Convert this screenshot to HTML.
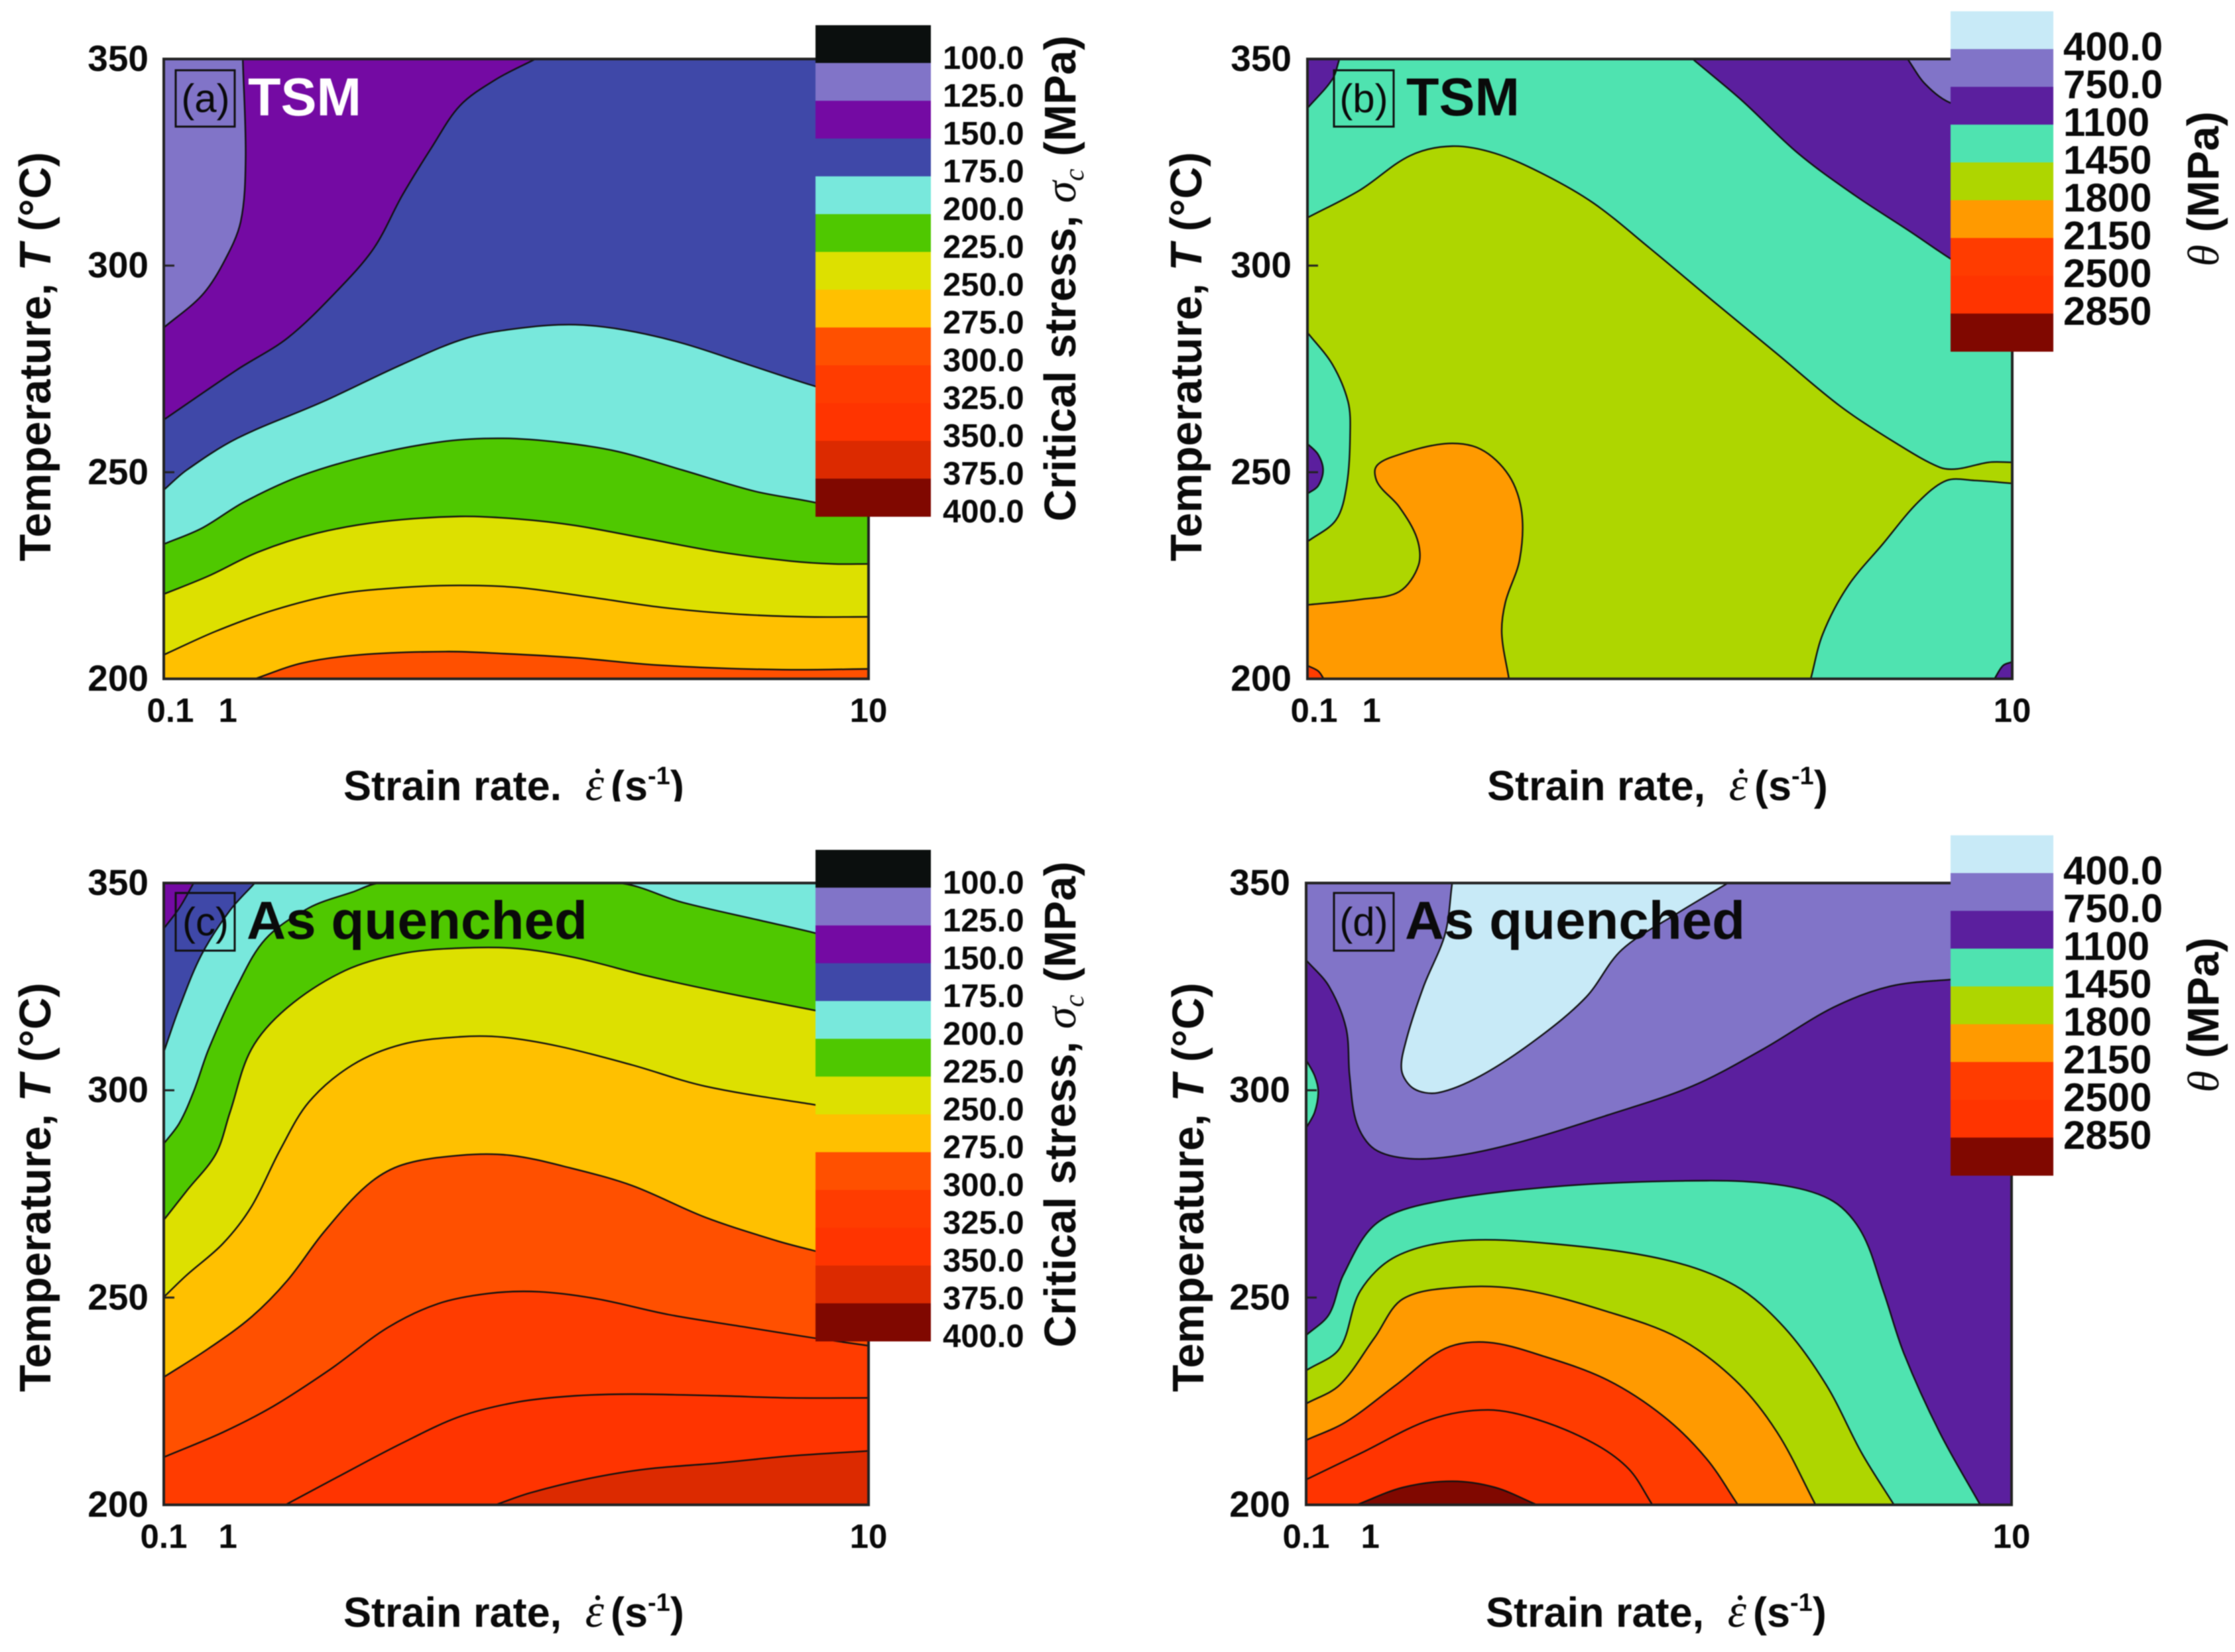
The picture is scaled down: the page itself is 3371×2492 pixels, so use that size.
<!DOCTYPE html>
<html lang="en">
<head>
<meta charset="utf-8">
<title>Contour maps of critical stress and hardening rate</title>
<style>
html,body{margin:0;padding:0;background:#fff;}
svg{display:block;filter:blur(0.9px);}
text{font-family:"Liberation Sans",sans-serif;fill:#0a0a0a;}
.t{font-weight:bold;font-size:67px;}
.x{font-weight:bold;font-size:63px;}
.g{font-family:"Liberation Serif","DejaVu Serif",serif;font-style:italic;font-weight:normal;}
.tag{font-size:60px;font-weight:normal;text-anchor:middle;}
.big{font-size:81px;font-weight:bold;}
</style>
</head>
<body>
<svg id="figure" xmlns="http://www.w3.org/2000/svg" width="3371" height="2492" viewBox="0 0 3371 2492">
<rect width="3371" height="2492" fill="#fff"/>
<g id="layer-marks"></g>

<g>
<text class="t" transform="translate(76,538) rotate(-90)" text-anchor="middle">Temperature, <tspan font-style="italic">T</tspan> (°C)</text>
<text class="x" x="518" y="1207">Strain rate. <tspan class="g" font-size="72" dx="18">ε</tspan><tspan class="g" font-size="72" dx="-26">˙</tspan><tspan dx="12">(s</tspan><tspan font-size="38" dy="-24">-1</tspan><tspan dy="24">)</tspan></text>
<rect x="500" y="1209" width="560" height="20" fill="#fff"/>
<text class="t" transform="translate(1622,420) rotate(-90)" text-anchor="middle">Critical stress, <tspan class="g">σ</tspan><tspan class="g" font-size="42" dy="12">c</tspan><tspan dy="-12"> (MPa)</tspan></text>
<rect x="265" y="106" width="89" height="85" fill="none" stroke="#111" stroke-width="3"/>
<text class="tag" x="310" y="169">(a)</text>
<text class="big" x="374" y="174" style="fill:#fff">TSM</text>
</g>

<g>
<text class="t" transform="translate(1812,538) rotate(-90)" text-anchor="middle">Temperature, <tspan font-style="italic">T</tspan> (°C)</text>
<text class="x" x="2243" y="1207">Strain rate, <tspan class="g" font-size="72" dx="18">ε</tspan><tspan class="g" font-size="72" dx="-26">˙</tspan><tspan dx="12">(s</tspan><tspan font-size="38" dy="-24">-1</tspan><tspan dy="24">)</tspan></text>
<text class="t" transform="translate(3346,285) rotate(-90)" text-anchor="middle"><tspan class="g">θ</tspan> (MPa)</text>
<rect x="2012" y="106" width="90" height="85" fill="none" stroke="#111" stroke-width="3"/>
<text class="tag" x="2057" y="169">(b)</text>
<text class="big" x="2121" y="174">TSM</text>
</g>

<g>
<text class="t" transform="translate(76,1791) rotate(-90)" text-anchor="middle">Temperature, <tspan font-style="italic">T</tspan> (°C)</text>
<text class="x" x="518" y="2454">Strain rate, <tspan class="g" font-size="72" dx="18">ε</tspan><tspan class="g" font-size="72" dx="-26">˙</tspan><tspan dx="12">(s</tspan><tspan font-size="38" dy="-24">-1</tspan><tspan dy="24">)</tspan></text>
<text class="t" transform="translate(1622,1666) rotate(-90)" text-anchor="middle">Critical stress, <tspan class="g">σ</tspan><tspan class="g" font-size="42" dy="12">c</tspan><tspan dy="-12"> (MPa)</tspan></text>
<rect x="265" y="1347" width="89" height="87" fill="none" stroke="#111" stroke-width="3"/>
<text class="tag" x="310" y="1411">(c)</text>
<text class="big" x="372" y="1416" textLength="514" lengthAdjust="spacingAndGlyphs">As quenched</text>
</g>

<g>
<text class="t" transform="translate(1815,1791) rotate(-90)" text-anchor="middle">Temperature, <tspan font-style="italic">T</tspan> (°C)</text>
<text class="x" x="2241" y="2454">Strain rate, <tspan class="g" font-size="72" dx="18">ε</tspan><tspan class="g" font-size="72" dx="-26">˙</tspan><tspan dx="12">(s</tspan><tspan font-size="38" dy="-24">-1</tspan><tspan dy="24">)</tspan></text>
<text class="t" transform="translate(3346,1531) rotate(-90)" text-anchor="middle"><tspan class="g">θ</tspan> (MPa)</text>
<rect x="2012" y="1347" width="90" height="87" fill="none" stroke="#111" stroke-width="3"/>
<text class="tag" x="2057" y="1411">(d)</text>
<text class="big" x="2119" y="1416" textLength="513" lengthAdjust="spacingAndGlyphs">As quenched</text>
</g>
</svg>

<script>
/* axis domain and tick labels */
const strainDomain = [0.1, 10];
const tempDomain = [200, 350];
const xTickValues = [0.1, 1, 10];
const yTickValues = [200, 250, 300, 350];

/* colour-scale levels */
const stressLabels = ["100.0","125.0","150.0","175.0","200.0","225.0","250.0","275.0","300.0","325.0","350.0","375.0","400.0"];
const thetaLabels = ["400.0","750.0","1100","1450","1800","2150","2500","2850",""];
const stressColors = ["#0b0f0e","#8174c8","#740aa3","#3f48a8","#78e8dc","#4fc800","#dde000","#ffc000","#ff5000","#ff3c00","#ff3400","#dc2a00","#800800"];
const thetaColors = ["#c8eaf7","#8174c8","#5b1f9e","#4fe3b0","#aed600","#ff9a00","#ff3c00","#ff3400","#800800"];

/* domain corners (strain rate, temperature) */
const TL = [0.1, 350], TR = [10, 350], BL = [0.1, 200], BR = [10, 200];

/* panel (a): critical stress contours, TSM */
const a125 = [[1.21,350],[1.25,326],[1.18,310.6],[0.93,300.4],[0.63,292.7],[0.1,285]];
const a150 = [[5.32,350],[4.77,345.1],[4.26,338.7],[3.86,328.5],[3.45,317],[3.05,304.2],[2.54,294],[1.84,282.5],[1.13,274.8],[0.1,262.7]];
const a200 = [[0.1,245.7],[0.42,250.5],[1.13,258.2],[2.34,267.1],[3.45,276.1],[4.36,282.5],[5.17,285],[5.88,285.7],[6.58,284.4],[7.39,281.2],[8.3,276.1],[9.21,271],[10,267.1]];
const a225 = [[0.1,232.6],[0.63,236.4],[1.23,242.8],[2.04,249.2],[3.05,254.3],[4.06,257.5],[4.87,258.2],[5.68,257.2],[6.48,255],[7.39,250.5],[8.4,245.4],[9.21,242.8],[10,239.6]];
const a250 = [[0.1,220.5],[0.73,224.9],[1.43,230.7],[2.24,235.2],[3.15,238],[4.26,239.3],[5.07,238.7],[5.88,237.1],[6.89,233.9],[7.9,230.7],[8.91,228.5],[9.51,227.8],[10,227.8]];
const a275 = [[0.1,205.8],[0.83,211.5],[1.64,216.6],[2.54,220.5],[3.45,222.1],[4.26,222.6],[5.07,222.1],[6.08,219.8],[7.09,217.3],[8.1,215.7],[9.11,215],[10,215]];
const a300 = [[1.38,200],[2.04,203.8],[2.85,205.8],[4.06,206.6],[4.87,206.1],[5.88,205.1],[6.89,203.5],[7.9,202.6],[8.91,202.2],[10,202.4]];

/* panel (b): hardening rate contours, TSM */
const b1450top = [[0.1,311.6],[0.84,318.3],[1.54,326.6],[2.13,328.9],[2.73,327.2],[3.42,322.1],[4.12,315.1],[4.91,304.2],[5.8,291.4],[6.7,278.6],[7.59,265.9],[8.38,256.9],[8.98,251.2],[9.23,250.8],[9.67,252.4],[10,252.4]];
const b1100top = [[5.51,350],[6.2,340],[6.99,327.2],[7.79,317],[8.58,308.1],[9.13,301.7],[10,292.7]];
const b750corner = [[8.53,350],[8.78,343.9],[9.13,339.4],[10,335.6]];
const b1100corner = [[0.55,350],[0.45,345.1],[0.1,338.1]];
const b1450lobe = [[0.1,283.8],[0.45,276.1],[0.67,267.1],[0.7,259.5],[0.65,246.7],[0.5,238.4],[0.1,233.2]];
const b1100lobe = [[0.1,256.9],[0.25,254.3],[0.32,250.5],[0.25,246.7],[0.1,244.8]];
const b2150 = [[0.1,217.9],[0.84,219.2],[1.39,221.1],[1.66,227.5],[1.64,233.9],[1.39,241.6],[1.09,247.3],[1.06,251.2],[1.29,253.7],[2.03,256.9],[2.53,255.6],[2.93,249.2],[3.11,240.3],[3.08,228.8],[2.88,218.5],[2.83,210.9],[2.93,200]];
const b2500corner = [[0.1,203.2],[0.25,201.9],[0.33,200]];
const b1450right = [[7.17,200],[7.34,210.9],[7.69,222.4],[8.18,232.6],[8.68,242.8],[9.08,248],[9.47,248],[10,247.3]];
const b1100right = [[9.75,200],[9.87,203.2],[10,204.1]];

/* panel (c): critical stress contours, as quenched */
const c175 = [[1.38,350],[1.03,343.4],[0.63,332.7],[0.32,320],[0.1,309.2]];
const c150 = [[0.52,350],[0.32,344],[0.1,339]];
const c225 = [[0.1,287.1],[0.32,292.1],[0.52,299.7],[0.73,309.9],[1.13,325.1],[1.53,336.5],[2.14,344],[2.75,347.8],[3.15,350],[6.48,350],[7.39,345.3],[8.5,340.9],[9.21,338.1],[10,334.6]];
const c250 = [[0.1,268.7],[0.42,275.7],[0.83,284.6],[1.03,294.7],[1.33,309.9],[1.84,320],[2.65,328.9],[3.45,333],[4.26,334.3],[5.07,334.2],[5.88,332],[6.89,327.6],[7.9,323.8],[9.21,319.4],[10,316.8]];
const c275 = [[0.1,250.1],[0.42,255.4],[0.93,263],[1.33,271.9],[1.74,285.8],[2.14,297.2],[2.75,306.1],[3.45,311.1],[4.26,312.9],[4.87,312.8],[5.68,310.5],[6.68,306.1],[7.7,301],[9.21,296.6],[10,294.7]];
const c300 = [[0.1,230.8],[0.73,237.7],[1.33,245.3],[1.84,254.2],[2.34,265.6],[2.95,277],[3.45,282],[4.26,284.3],[4.97,284.3],[5.78,281.4],[6.68,277],[7.7,269.4],[8.71,263.7],[9.21,261.4],[10,258]];
const c325 = [[0.1,211.5],[0.93,217.5],[1.64,223.8],[2.44,232.7],[3.25,242.8],[3.95,248.5],[4.67,251],[5.37,251.4],[6.18,249.7],[7.19,245.9],[8.3,242.8],[9.21,240.3],[10,238.4]];
const c350 = [[1.81,200],[2.54,206.7],[3.45,214.9],[4.26,221.3],[5.07,224.8],[5.88,226.3],[6.68,226.7],[7.9,226.3],[8.91,225.8],[10,225.8]];
const c375 = [[4.76,200],[5.25,202.9],[6.06,206.3],[6.87,208.6],[7.9,210.1],[8.91,211.8],[10,213]];

/* panel (d): hardening rate contours, as quenched */
const d750 = [[0.1,331.4],[0.42,325.1],[0.66,315],[0.71,303.5],[0.81,292.1],[1.06,285.8],[1.56,283.5],[2.25,284.3],[3.14,287.7],[4.33,294],[5.52,301],[6.51,309.9],[7.5,320],[8.3,325.1],[9.14,326.7],[10,327.6]];
const d400 = [[2.15,350],[2.05,337.7],[1.75,325.1],[1.51,312.4],[1.44,304.8],[1.61,300.4],[1.95,299.4],[2.55,303.5],[3.34,312.4],[4.03,322.5],[4.53,333.9],[5.32,342.8],[6.02,350]];
const d1450lobe = [[0.1,307.3],[0.22,303.5],[0.27,299.7],[0.22,294.7],[0.1,290.9]];
const d1450 = [[0.1,240.9],[0.42,245.9],[0.62,255.4],[1.06,267.5],[1.75,272.5],[3.54,276.7],[5.72,278.2],[6.81,277],[7.5,273.2],[7.9,265.6],[8.2,251.6],[8.49,236.5],[8.99,217.5],[9.56,200]];
const d1800 = [[0.1,232.4],[0.57,237.7],[0.86,251.6],[1.36,259.9],[2.25,263.7],[3.54,263],[5.12,259.2],[6.12,252.9],[6.81,242.8],[7.4,228.9],[7.9,212.4],[8.35,200]];
const d2150 = [[0.1,224.4],[0.57,228.9],[1.06,240.3],[1.46,249.7],[2.25,252.5],[3.14,251.9],[4.33,246.6],[5.32,240.3],[6.12,230.1],[6.71,217.5],[7.25,200]];
const d2500a = [[0.1,215.6],[0.66,220],[1.36,228.9],[2.05,237.7],[2.65,239.2],[3.44,235.8],[4.33,230.1],[5.12,221.3],[5.72,211.1],[6.16,200]];
const d2500b = [[0.1,206.1],[0.86,212.4],[1.85,220.6],[2.65,222.9],[3.34,220.6],[4.13,214.9],[4.63,208.6],[4.96,200]];
const d2850 = [[0.81,200],[1.46,204.2],[2.15,205.7],[2.75,204.2],[3.34,200]];

/* band stacking: colour index into the panel's scale, contour, corners closing the region */
const bandsA = [[2,a150,[TL]],[1,a125,[TL]],[4,a200,[BR,BL]],[5,a225,[BR,BL]],[6,a250,[BR,BL]],[7,a275,[BR,BL]],[8,a300,[BR]]];
const bandsB = [[3,b1450top,[TR,TL]],[2,b1100top,[TR]],[1,b750corner,[TR]],[2,b1100corner,[TL]],[3,b1450lobe,[]],[2,b1100lobe,[]],[5,b2150,[BL]],[6,b2500corner,[BL]],[3,b1450right,[BR]],[2,b1100right,[BR]]];
const bandsC = [[3,c175,[TL]],[2,c150,[TL]],[5,c225,[BR,BL]],[6,c250,[BR,BL]],[7,c275,[BR,BL]],[8,c300,[BR,BL]],[9,c325,[BR,BL]],[10,c350,[BR]],[11,c375,[BR]]];
const bandsD = [[1,d750,[TR,TL]],[0,d400,[]],[3,d1450lobe,[]],[3,d1450,[BL]],[4,d1800,[BL]],[5,d2150,[BL]],[6,d2500a,[BL]],[7,d2500b,[BL]],[8,d2850,[]]];

/* layout only */
const SVGNS = "http://www.w3.org/2000/svg";
const root = document.getElementById("layer-marks");

const panelLayouts = [
  {id:"a",l:247,r:1310,t:89,b:1024,base:3,colors:stressColors,labels:stressLabels,bands:bandsA,leg:[1230,38,174],legText:[1422,49,9],tickRight:224,xBase:1089,xShift:10},
  {id:"b",l:1972,r:3035,t:89,b:1024,base:4,colors:thetaColors,labels:thetaLabels,bands:bandsB,leg:[2942,17,155],legText:[3112,60,17],tickRight:1948,xBase:1089,xShift:10},
  {id:"c",l:247,r:1310,t:1332,b:2270,base:4,colors:stressColors,labels:stressLabels,bands:bandsC,leg:[1230,1282,174],legText:[1422,49,9],tickRight:224,xBase:2335,xShift:0},
  {id:"d",l:1970,r:3034,t:1332,b:2270,base:2,colors:thetaColors,labels:thetaLabels,bands:bandsD,leg:[2942,1260,155],legText:[3112,60,17],tickRight:1946,xBase:2335,xShift:0}
];

function el(tag, attrs, parent) {
  const n = document.createElementNS(SVGNS, tag);
  for (const k in attrs) n.setAttribute(k, attrs[k]);
  parent.appendChild(n);
  return n;
}

function dist(a, b) { return Math.hypot(a[0] - b[0], a[1] - b[1]) || 1e-6; }

/* chord-length Catmull-Rom: keeps unevenly spaced contour points from wobbling */
function smoothPath(pts) {
  let d = "M" + pts[0][0].toFixed(1) + " " + pts[0][1].toFixed(1);
  for (let i = 0; i < pts.length - 1; i++) {
    const p0 = pts[i - 1] || pts[i], p1 = pts[i], p2 = pts[i + 1], p3 = pts[i + 2] || p2;
    const d1 = i > 0 ? dist(p0, p1) : 0, d2 = dist(p1, p2), d3 = pts[i + 2] ? dist(p2, p3) : 0;
    const k1 = d2 / 3 / (d1 + d2), k2 = d2 / 3 / (d2 + d3);
    const c1x = p1[0] + (p2[0] - p0[0]) * k1, c1y = p1[1] + (p2[1] - p0[1]) * k1;
    const c2x = p2[0] - (p3[0] - p1[0]) * k2, c2y = p2[1] - (p3[1] - p1[1]) * k2;
    d += "C" + c1x.toFixed(1) + " " + c1y.toFixed(1) + " " + c2x.toFixed(1) + " " + c2y.toFixed(1) + " " + p2[0].toFixed(1) + " " + p2[1].toFixed(1);
  }
  return d;
}

panelLayouts.forEach(function (p) {
  const xScale = function (v) { return p.l + (v - strainDomain[0]) / (strainDomain[1] - strainDomain[0]) * (p.r - p.l); };
  const yScale = function (v) { return p.b - (v - tempDomain[0]) / (tempDomain[1] - tempDomain[0]) * (p.b - p.t); };
  const project = function (q) { return [xScale(q[0]), yScale(q[1])]; };

  const g = el("g", {}, root);
  
  

  const defs = el("defs", {}, g);
  const clip = el("clipPath", {id: "clip-" + p.id}, defs);
  el("rect", {x: p.l, y: p.t, width: p.r - p.l, height: p.b - p.t}, clip);

  const plot = el("g", {"clip-path": "url(#clip-" + p.id + ")"}, g);
  
  

  const baseRect = el("rect", {x: p.l, y: p.t, width: p.r - p.l, height: p.b - p.t, fill: p.colors[p.base]}, plot);
  
  

  p.bands.forEach(function (band) {
    const line = band[1].map(project);
    const corners = band[2].map(project);
    const curve = smoothPath(line);
    let fillD = curve;
    corners.forEach(function (c) { fillD += "L" + c[0].toFixed(1) + " " + c[1].toFixed(1); });
    fillD += "Z";
    const fill = el("path", {d: fillD, fill: p.colors[band[0]], stroke: "none"}, plot);
    
    
    const stroke = el("path", {d: curve, fill: "none", stroke: "#111", "stroke-width": 2.4}, plot);
    
    
  });

  const frame = el("rect", {x: p.l, y: p.t, width: p.r - p.l, height: p.b - p.t, fill: "none", stroke: "#222", "stroke-width": 4}, g);
  
  

  yTickValues.forEach(function (v) {
    const y = yScale(v);
    const tick = el("line", {x1: p.l, x2: p.l + 16, y1: y, y2: y, stroke: "#222", "stroke-width": 3}, g);
    
    
    const label = el("text", {x: p.tickRight, y: y + 18, "text-anchor": "end", "font-size": 55, "font-weight": "bold"}, g);
    
    
    label.textContent = String(v);
  });

  xTickValues.forEach(function (v, i) {
    const label = el("text", {x: xScale(v) + (i === 0 ? p.xShift : 0), y: p.xBase, "text-anchor": "middle", "font-size": 51, "font-weight": "bold"}, g);
    
    
    label.textContent = String(v);
  });

  const legend = el("g", {}, g);
  
  
  const blockH = 57;
  p.colors.forEach(function (color, i) {
    const top = p.leg[1] + i * blockH;
    const block = el("rect", {x: p.leg[0], y: top, width: p.leg[2], height: blockH + 0.5, fill: color}, legend);
    
    
    if (p.labels[i]) {
      const t = el("text", {x: p.legText[0], y: top + blockH + p.legText[2], "font-size": p.legText[1], "font-weight": "bold"}, legend);
      
      
      t.textContent = p.labels[i];
    }
  });
});
</script>
</body>
</html>
